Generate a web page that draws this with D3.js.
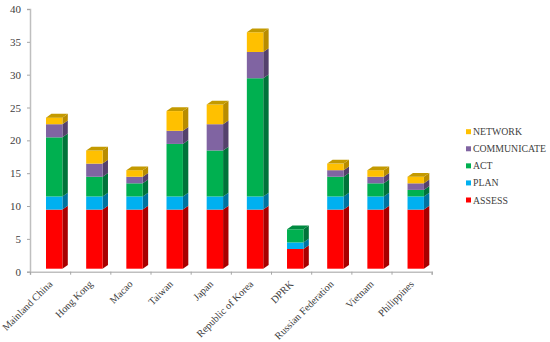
<!DOCTYPE html>
<html>
<head>
<meta charset="utf-8">
<script src="https://cdn.jsdelivr.net/npm/d3@7/dist/d3.min.js"></script>
<style>
 html, body { margin: 0; padding: 0; background: #fff; }
 svg { display: block; }
 text { font-family: "Liberation Serif", serif; fill: #404040; }
</style>
</head>
<body>
<div id="chart"></div>
<script>
 // Chart data
 const categories = ['Mainland China', 'Hong Kong', 'Macao', 'Taiwan', 'Japan', 'Republic of Korea', 'DPRK', 'Russian Federation', 'Vietnam', 'Philippines'];
 const assess = [9, 9, 9, 9, 9, 9, 3, 9, 9, 9];
 const plan = [2, 2, 2, 2, 2, 2, 1, 2, 2, 2];
 const act = [9, 3, 2, 8, 7, 18, 2, 3, 2, 1];
 const communicate = [2, 2, 1, 2, 4, 4, 0, 1, 1, 1];
 const network = [1, 2, 1, 3, 3, 3, 0, 1, 1, 1];
 const seriesNames = ['ASSESS', 'PLAN', 'ACT', 'COMMUNICATE', 'NETWORK'];
 const seriesValues = [assess, plan, act, communicate, network];
 const yTicks = [0, 5, 10, 15, 20, 25, 30, 35, 40];

 // front, side and top colours of each series
 const frontColors = ['#ff0000', '#00b0f0', '#00b050', '#8064a2', '#ffc000'];
 const sideColors = ['#a80000', '#0073a0', '#00733a', '#54416c', '#b88c00'];
 const topColors = ['#c40000', '#0088bd', '#008a40', '#65508a', '#c49a00'];

 const width = 550, height = 342;
 const axisLeft = 30, axisRight = 431.7, axisBottom = 271.7, axisTop = 9;

 // 3D look of the bars
 const floorY = 3;
 const depthX = 5.4, depthY = 3.8;
 const barOffset = 16, barWidth = 16.4;

 const svg = d3.select('#chart').append('svg')
     .attr('width', width)
     .attr('height', height);

 const x = d3.scaleBand().domain(categories).range([axisLeft, axisRight]);
 const y = d3.scaleLinear().domain([0, 40]).range([axisBottom, axisTop]);
 const tickX = d3.scaleLinear().domain([0, categories.length]).range([axisLeft, axisRight]);

 // Stack the series
 const rows = categories.map((c, i) => {
     const row = { category: c };
     seriesNames.forEach((s, j) => { row[s] = seriesValues[j][i]; });
     return row;
 });
 const stacked = d3.stack().keys(seriesNames)(rows);

 // Axes
 const yAxis = d3.axisLeft(y).tickValues(yTicks).tickSize(3).tickPadding(6);
 const xAxis = d3.axisBottom(tickX).ticks(categories.length).tickSize(3).tickFormat('');

 const yG = svg.append('g').attr('transform', `translate(${axisLeft},0)`).call(yAxis);
 const xG = svg.append('g').attr('transform', `translate(0,${axisBottom})`).call(xAxis);

 [yG, xG].forEach(g => {
     g.selectAll('.domain').attr('stroke', '#bfbfbf').attr('stroke-width', 1.5);
     g.selectAll('.tick line').attr('stroke', '#a6a6a6');
 });
 yG.selectAll('text')
     .style('font-family', '"Liberation Serif", serif')
     .style('font-size', '11px')
     .attr('fill', '#404040');

 // Category labels
 svg.append('g').selectAll('text')
     .data(categories)
     .join('text')
     .attr('text-anchor', 'end')
     .attr('font-size', 10.2)
     .attr('transform', d => `translate(${x(d) + x.bandwidth() / 2 + 3},${axisBottom + 13}) rotate(-45)`)
     .text(d => d);

 // Bars, bottom series first
 const bars = svg.append('g');
 stacked.forEach((layer, s) => {
     layer.forEach(d => {
         if (d[1] === d[0]) return;
         const left = x(d.data.category) + barOffset;
         const right = left + barWidth;
         const top = y(d[1]) - floorY;
         const bottom = y(d[0]) - floorY;

         bars.append('path')
             .attr('fill', sideColors[s])
             .attr('d', d3.line()([[right, top], [right + depthX, top - depthY], [right + depthX, bottom - depthY], [right, bottom]]) + 'Z');

         bars.append('rect')
             .attr('x', left)
             .attr('y', top)
             .attr('width', barWidth)
             .attr('height', bottom - top)
             .attr('fill', frontColors[s]);

         // the cap goes only on the highest segment of a stack
         const isTop = d3.sum(seriesValues.slice(s + 1), v => v[categories.indexOf(d.data.category)]) === 0;
         if (isTop) {
             bars.append('path')
                 .attr('fill', topColors[s])
                 .attr('d', d3.line()([[left, top], [left + depthX, top - depthY], [right + depthX, top - depthY], [right, top]]) + 'Z');
         }
     });
 });

 // Legend, NETWORK on top
 const legendNames = seriesNames.slice().reverse();
 const legendY = d3.scalePoint().domain(legendNames).range([131.7, 200]);
 const legend = svg.append('g').selectAll('g')
     .data(legendNames)
     .join('g')
     .attr('transform', d => `translate(466,${legendY(d)})`);

 legend.append('rect')
     .attr('y', -2.5)
     .attr('width', 5)
     .attr('height', 5)
     .attr('fill', d => frontColors[seriesNames.indexOf(d)]);

 legend.append('text')
     .attr('x', 7)
     .attr('y', 3.5)
     .attr('font-size', 9.8)
     .text(d => d);
</script>
</body>
</html>
